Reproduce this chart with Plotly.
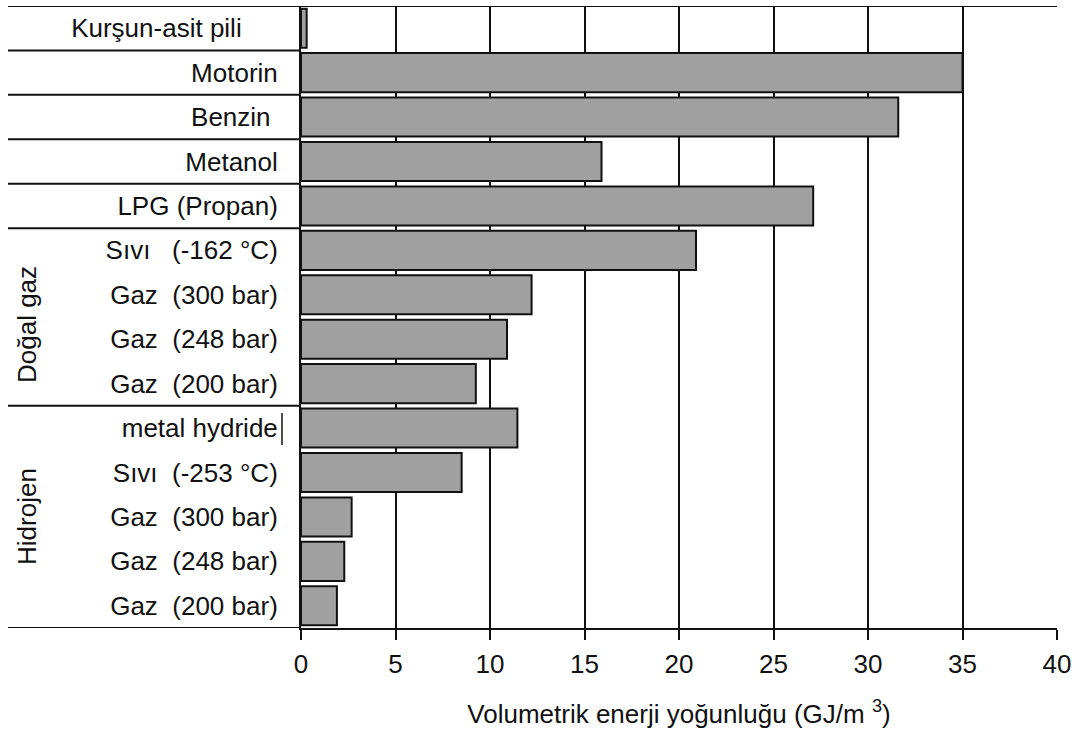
import plotly.graph_objects as go

# ---- data ----
labels = [
    "Kurşun-asit pili\u00a0\u00a0\u00a0\u00a0\u00a0",
    "Motorin",
    "Benzin\u00a0",
    "Metanol",
    "LPG (Propan)",
    "Sıvı\u00a0\u00a0\u00a0(-162 °C)",
    "Gaz\u00a0\u00a0(300 bar)",
    "Gaz\u00a0\u00a0(248 bar)",
    "Gaz\u00a0\u00a0(200 bar)",
    "metal hydride",
    "Sıvı\u00a0\u00a0(-253 °C)",
    "Gaz\u00a0\u00a0(300 bar)",
    "Gaz\u00a0\u00a0(248 bar)",
    "Gaz\u00a0\u00a0(200 bar)",
]
values = [0.3, 35.0, 31.6, 15.9, 27.1, 20.9, 12.2, 10.9, 9.25, 11.45, 8.5, 2.68, 2.29, 1.9]
group_names = ["Doğal gaz", "Hidrojen"]
group_ranges = [(5, 8), (9, 13)]
separators_after = [0, 1, 2, 3, 4, 8]
x_ticks = [0, 5, 10, 15, 20, 25, 30, 35, 40]
x_title = "Volumetrik enerji yoğunluğu (GJ/m <sup>3</sup>)"

positions = list(range(len(labels)))
FONT = "Liberation Sans, Arial, sans-serif"
TXT = "#111111"
FS = 26

fig = go.Figure()
fig.add_trace(go.Bar(
    x=values, y=positions, orientation="h", width=0.88,
    marker=dict(color="#a0a0a0", line=dict(color="#111111", width=2)),
    hoverinfo="x",
))

W, H = 1082, 733
L, R, T, B = 301, 25, 6, 105
pw = W - L - R
ph = H - T - B

def px_to_paper_x(px):
    return (px - L) / pw

def py_to_paper_y(py):
    return (H - B - py) / ph

left_x = px_to_paper_x(8)

shapes = []
shapes.append(dict(type="line", xref="paper", yref="y", x0=left_x, x1=1,
                   y0=-0.5, y1=-0.5, line=dict(color="#111111", width=2)))
shapes.append(dict(type="line", xref="paper", yref="y", x0=left_x, x1=0,
                   y0=len(labels) - 0.5, y1=len(labels) - 0.5,
                   line=dict(color="#111111", width=2)))
for i in separators_after:
    shapes.append(dict(type="line", xref="paper", yref="y", x0=left_x, x1=0,
                       y0=i + 0.5, y1=i + 0.5, line=dict(color="#111111", width=2)))
shapes.append(dict(type="line", xref="paper", yref="paper",
                   x0=px_to_paper_x(282), x1=px_to_paper_x(282),
                   y0=py_to_paper_y(413), y1=py_to_paper_y(445),
                   line=dict(color="#111111", width=1.5)))

annotations = []
for name, (a, b) in zip(group_names, group_ranges):
    annotations.append(dict(
        text=name, xref="paper", yref="y", x=px_to_paper_x(27), y=(a + b) / 2,
        yshift=-8 if name == "Doğal gaz" else 0,
        textangle=-90, showarrow=False, xanchor="center", yanchor="middle",
        font=dict(family=FONT, size=FS, color=TXT),
    ))

fig.update_layout(
    width=W, height=H,
    margin=dict(l=L, r=R, t=T, b=B, pad=0),
    paper_bgcolor="white", plot_bgcolor="white",
    showlegend=False,
    font=dict(family=FONT, size=FS, color=TXT),
    shapes=shapes, annotations=annotations,
    bargap=0.1,
)
fig.update_xaxes(
    range=[0, 40], tickvals=x_ticks, ticktext=[str(t) for t in x_ticks],
    showgrid=True, gridcolor="#111111", gridwidth=1.6,
    zeroline=False, showline=True, linecolor="#111111", linewidth=2,
    ticks="outside", ticklen=10, tickwidth=1.6, tickcolor="#111111",
    ticklabelstandoff=2,
    tickfont=dict(family=FONT, size=FS, color=TXT),
    title=dict(text=x_title, font=dict(family=FONT, size=FS, color=TXT), standoff=27),
)
fig.update_yaxes(
    range=[len(labels) - 0.5, -0.5], tickvals=positions, ticktext=labels,
    showgrid=False, zeroline=False, showline=True, linecolor="#111111", linewidth=2,
    ticks="", ticklabelstandoff=16,
    tickfont=dict(family=FONT, size=FS, color=TXT),
)

fig.write_html("out.html", config={"displayModeBar": False},
               post_script="document.body.style.margin='0';")
